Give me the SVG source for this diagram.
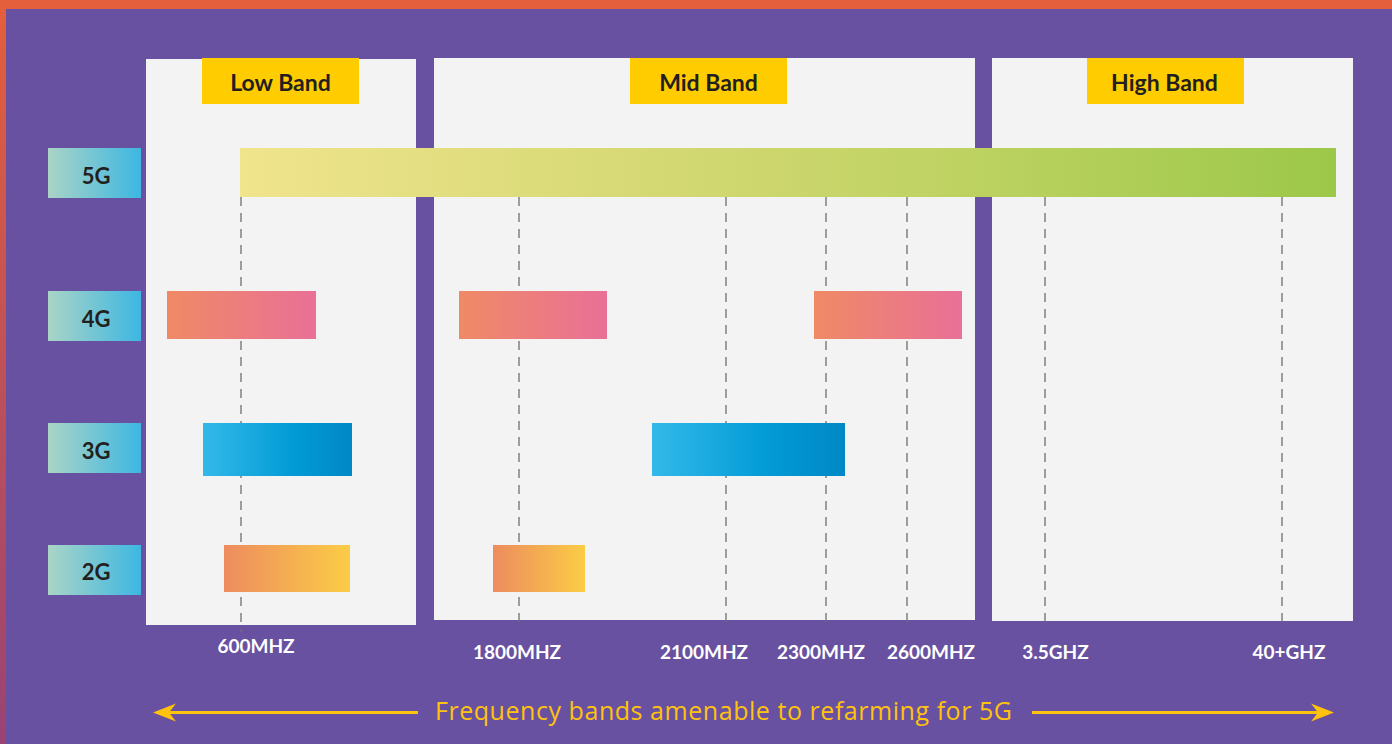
<svg xmlns="http://www.w3.org/2000/svg" width="1392" height="744" viewBox="0 0 1392 744">
<defs>
<linearGradient id="gBorder" x1="0" y1="0" x2="0" y2="1"><stop offset="0" stop-color="#e45f3b"/><stop offset="1" stop-color="#994374"/></linearGradient>
<linearGradient id="gRow" x1="0" y1="0" x2="1" y2="0"><stop offset="0" stop-color="#aad4c6"/><stop offset="1" stop-color="#3db7e2"/></linearGradient>
<linearGradient id="g5" x1="0" y1="0" x2="1" y2="0"><stop offset="0" stop-color="#f0e48d"/><stop offset="0.4" stop-color="#d3d872"/><stop offset="0.7" stop-color="#bad15f"/><stop offset="1" stop-color="#9cc849"/></linearGradient>
<linearGradient id="g4" x1="0" y1="0" x2="1" y2="0"><stop offset="0" stop-color="#ef8a65"/><stop offset="1" stop-color="#e97097"/></linearGradient>
<linearGradient id="g3" x1="0" y1="0" x2="1" y2="0"><stop offset="0" stop-color="#33b9e9"/><stop offset="0.6" stop-color="#029bd6"/><stop offset="1" stop-color="#0088c6"/></linearGradient>
<linearGradient id="g2" x1="0" y1="0" x2="1" y2="0"><stop offset="0" stop-color="#ed8c5f"/><stop offset="1" stop-color="#fbcd45"/></linearGradient>
</defs>
<style>
.panel{fill:#f3f3f3}
.tag{fill:#ffcc00}
.title{font-family:Lato,"Open Sans",sans-serif;font-weight:700;font-size:23px;fill:#231f20;text-anchor:middle}
.row{fill:url(#gRow)}
.rowt{font-family:Lato,"Open Sans",sans-serif;font-weight:700;font-size:22px;fill:#231f20;text-anchor:middle}
.freq{font-family:Lato,"Open Sans",sans-serif;font-weight:700;font-size:19px;fill:#ffffff;text-anchor:middle}
.guide{stroke:#6f6f6f;stroke-width:1.3;stroke-dasharray:9 7;fill:none}
.arrow{stroke:#ffc20e;stroke-width:3;fill:none}
.head{fill:#ffc20e}
.cap{font-family:"Open Sans",Lato,sans-serif;font-size:25px;fill:#ffc20e}
</style>
<rect x="0" y="0" width="1392" height="744" fill="url(#gBorder)"/>
<rect x="6" y="9" width="1386" height="735" fill="#6851a0"/>

<g id="panel-low"><rect class="panel" x="146" y="59" width="270" height="566"/><rect class="tag" x="202" y="58" width="157" height="46"/><text class="title" x="280.5" y="91">Low Band</text></g>
<g id="panel-mid"><rect class="panel" x="434" y="58" width="541" height="562"/><rect class="tag" x="630" y="58" width="157" height="46"/><text class="title" x="708.5" y="91">Mid Band</text></g>
<g id="panel-high"><rect class="panel" x="992" y="58" width="361" height="563"/><rect class="tag" x="1087" y="58" width="157" height="46"/><text class="title" x="1164.5" y="91">High Band</text></g>

<g id="guides">
<line class="guide" x1="241" y1="197" x2="241" y2="632"/>
<line class="guide" x1="519" y1="197" x2="519" y2="628"/>
<line class="guide" x1="726" y1="197" x2="726" y2="628"/>
<line class="guide" x1="826" y1="197" x2="826" y2="628"/>
<line class="guide" x1="907" y1="197" x2="907" y2="628"/>
<line class="guide" x1="1045" y1="197" x2="1045" y2="628"/>
<line class="guide" x1="1282" y1="197" x2="1282" y2="628"/>
</g>

<g id="row-5g"><rect class="row" x="48" y="148" width="93" height="50"/><text class="rowt" x="96" y="184">5G</text></g>
<g id="row-4g"><rect class="row" x="48" y="291" width="93" height="50"/><text class="rowt" x="96" y="326.5">4G</text></g>
<g id="row-3g"><rect class="row" x="48" y="423" width="93" height="50"/><text class="rowt" x="96" y="458.5">3G</text></g>
<g id="row-2g"><rect class="row" x="48" y="545" width="93" height="50"/><text class="rowt" x="96" y="580">2G</text></g>

<g id="bar-5g"><rect x="240" y="148" width="1096" height="49" fill="url(#g5)"/></g>
<g id="bar-4g-low"><rect x="167" y="291" width="149" height="48" fill="url(#g4)"/></g>
<g id="bar-4g-1800"><rect x="459" y="291" width="148" height="48" fill="url(#g4)"/></g>
<g id="bar-4g-2600"><rect x="814" y="291" width="148" height="48" fill="url(#g4)"/></g>
<g id="bar-3g-low"><rect x="203" y="423" width="149" height="53" fill="url(#g3)"/></g>
<g id="bar-3g-mid"><rect x="652" y="423" width="193" height="53" fill="url(#g3)"/></g>
<g id="bar-2g-low"><rect x="224" y="545" width="126" height="47" fill="url(#g2)"/></g>
<g id="bar-2g-mid"><rect x="493" y="545" width="92" height="47" fill="url(#g2)"/></g>

<g id="freq-labels">
<text class="freq" x="256" y="653">600MHZ</text>
<text class="freq" x="517" y="659">1800MHZ</text>
<text class="freq" x="704" y="659">2100MHZ</text>
<text class="freq" x="821" y="659">2300MHZ</text>
<text class="freq" x="931" y="659">2600MHZ</text>
<text class="freq" x="1055.5" y="659">3.5GHZ</text>
<text class="freq" x="1289" y="659">40+GHZ</text>
</g>

<g id="connectors">
<line class="arrow" x1="168" y1="712.5" x2="418" y2="712.5"/>
<path class="head" d="M153,712.5 L176,703.5 L169,712.5 L176,721.5 Z"/>
<line class="arrow" x1="1032" y1="712.5" x2="1318" y2="712.5"/>
<path class="head" d="M1334,712.5 L1311,703.5 L1318,712.5 L1311,721.5 Z"/>
</g>
<g id="caption"><text class="cap" x="435" y="720" textLength="577" lengthAdjust="spacing">Frequency bands amenable to refarming for 5G</text></g>
</svg>
